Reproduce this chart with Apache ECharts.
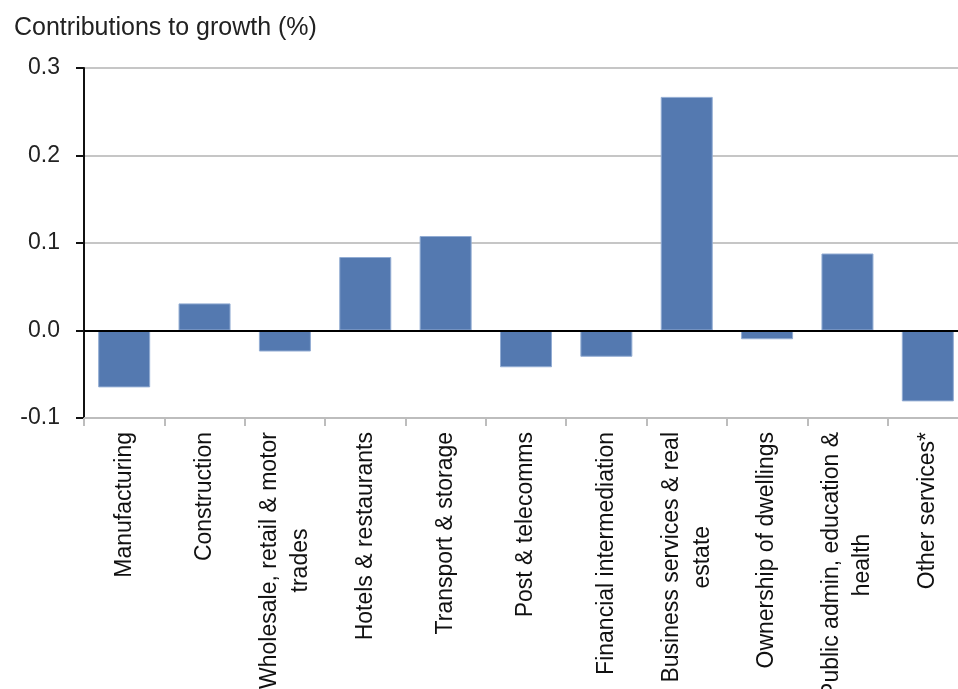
<!DOCTYPE html>
<html>
<head>
<meta charset="utf-8">
<script src="https://cdn.jsdelivr.net/npm/echarts@6/dist/echarts.min.js"></script>
<style>
html,body{margin:0;padding:0;background:#fff;}
#chart{width:958px;height:689px;}
</style>
</head>
<body>
<div id="chart"></div>
<script>
const titleText = 'Contributions to growth (%)';
const categories = [
  'Manufacturing',
  'Construction',
  'Wholesale, retail & motor\ntrades',
  'Hotels & restaurants',
  'Transport & storage',
  'Post & telecomms',
  'Financial intermediation',
  'Business services & real\nestate',
  'Ownership of dwellings',
  'Public admin, education &\nhealth',
  'Other services*'
];
const values = [-0.065, 0.031, -0.024, 0.084, 0.108, -0.042, -0.030, 0.267, -0.010, 0.088, -0.081];
const yMin = -0.1, yMax = 0.3, yStep = 0.1;

const font = 'Arial, "Liberation Sans", sans-serif';
const chart = echarts.init(document.getElementById('chart'));
chart.setOption({
  animation: false,
  backgroundColor: '#fff',
  title: {
    text: titleText,
    left: 9, top: 11,
    textStyle: {fontFamily: font, fontSize: 25, fontWeight: 'normal', color: '#222'}
  },
  grid: {left: 84, width: 884, top: 68, bottom: 271, containLabel: false, outerBoundsMode: 'none'},
  xAxis: {
    type: 'category',
    data: categories,
    position: 'bottom',
    axisLine: {onZero: false, lineStyle: {color: '#bdbdbd', width: 2}},
    axisTick: {show: true, length: 8, lineStyle: {color: '#bdbdbd', width: 2}},
    axisLabel: {
      interval: 0,
      rotate: 90,
      margin: 14,
      fontFamily: font,
      fontSize: 23,
      color: '#111',
      formatter: function (v) {
        return v.split('\n').map(function (s) { return '{a|' + s + '}'; }).join('\n');
      },
      rich: {a: {align: 'center', fontFamily: font, fontSize: 23, lineHeight: 31, color: '#111'}}
    },
    splitLine: {show: false}
  },
  yAxis: {
    type: 'value',
    min: yMin, max: yMax, interval: yStep,
    axisLine: {show: true, lineStyle: {color: '#111', width: 2}},
    axisTick: {show: true, length: 8, lineStyle: {color: '#111', width: 2}},
    axisLabel: {
      margin: 24,
      fontFamily: font, fontSize: 23, color: '#222',
      formatter: function (v) { return v.toFixed(1); }
    },
    splitLine: {show: true, lineStyle: {color: '#c6c6c6', width: 2}}
  },
  series: [{
    type: 'bar',
    data: values,
    barWidth: 52,
    itemStyle: {color: '#5479b0', borderColor: '#92acd3', borderWidth: 1},
    markLine: {
      silent: true,
      symbol: ['none', 'none'],
      label: {show: false},
      lineStyle: {color: '#000', width: 2, type: 'solid'},
      data: [{yAxis: 0}]
    }
  }]
});
</script>
</body>
</html>
